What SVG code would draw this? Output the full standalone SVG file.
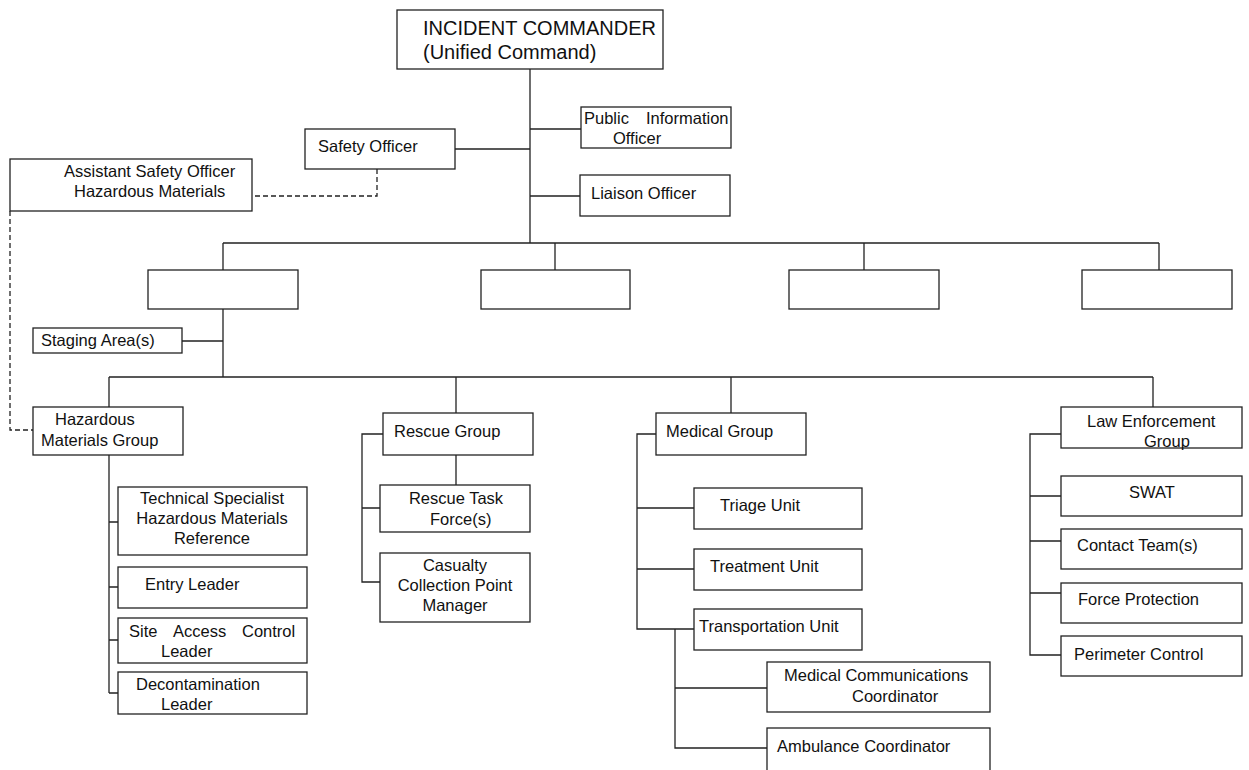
<svg xmlns="http://www.w3.org/2000/svg" width="1249" height="770" viewBox="0 0 1249 770">
<style>
.b{fill:#fff;stroke:#222;stroke-width:1.3}
.l{fill:none;stroke:#222;stroke-width:1.3}
.d{fill:none;stroke:#222;stroke-width:1.3;stroke-dasharray:5,3}
text{font-family:"Liberation Sans",Arial,sans-serif;font-size:16.5px;fill:#111}
.big{font-size:20px}
.m{text-anchor:middle}
</style>
<rect width="1249" height="770" fill="#fff"/>
<g id="connectors">
<path class="l" d="M530 69V243M530 129H581M455 149H530M530 196H580"/>
<path class="l" d="M223 243H1159M223 243V270M555 243V270M864 243V270M1159 243V270"/>
<path class="l" d="M223 309V377M182 341H223M109 377H1153M109 377V407M456 377V413M731 377V413M1153 377V407"/>
<path class="l" d="M109 455V693M109 522H118M109 587H118M109 640H118M109 693H118"/>
<path class="l" d="M456 455V485M383 434H362V582H380M362 508H380"/>
<path class="l" d="M656 434H637V629H694M637 508H694M637 569H694M675 629V748H767M675 688H767"/>
<path class="l" d="M1061 434H1030V655H1061M1030 496H1061M1030 541H1061M1030 593H1061"/>
<path class="d" d="M255 196H377V169"/>
<path class="d" d="M10 211V430H33"/>
</g>
<g id="ic"><rect class="b" x="397" y="10" width="266" height="59"/><text class="big" x="423" y="35">INCIDENT COMMANDER</text><text class="big" x="423" y="59">(Unified Command)</text></g>
<g id="pio"><rect class="b" x="581" y="107" width="150" height="41"/><text y="124"><tspan x="584">Public</tspan><tspan x="646">Information</tspan></text><text x="613" y="144">Officer</text></g>
<g id="safety"><rect class="b" x="305" y="129" width="150" height="40"/><text x="318" y="152">Safety Officer</text></g>
<g id="liaison"><rect class="b" x="580" y="175" width="150" height="41"/><text x="591" y="199">Liaison Officer</text></g>
<g id="aso"><rect class="b" x="10" y="159" width="242" height="52"/><text x="64" y="177">Assistant Safety Officer</text><text x="74" y="197">Hazardous Materials</text></g>
<g id="sec1"><rect class="b" x="148" y="270" width="150" height="39"/></g>
<g id="sec2"><rect class="b" x="481" y="270" width="149" height="39"/></g>
<g id="sec3"><rect class="b" x="789" y="270" width="150" height="39"/></g>
<g id="sec4"><rect class="b" x="1082" y="270" width="150" height="39"/></g>
<g id="staging"><rect class="b" x="33" y="328" width="149" height="25"/><text x="41" y="346">Staging Area(s)</text></g>
<g id="hazmat"><rect class="b" x="33" y="407" width="150" height="48"/><text x="55" y="425">Hazardous</text><text x="41" y="446">Materials Group</text></g>
<g id="techspec"><rect class="b" x="118" y="487" width="189" height="68"/><text class="m" x="212" y="504">Technical Specialist</text><text class="m" x="212" y="524">Hazardous Materials</text><text class="m" x="212" y="544">Reference</text></g>
<g id="entry"><rect class="b" x="118" y="567" width="189" height="41"/><text x="145" y="590">Entry Leader</text></g>
<g id="site"><rect class="b" x="118" y="618" width="189" height="45"/><text y="637"><tspan x="129">Site</tspan><tspan x="173">Access</tspan><tspan x="242">Control</tspan></text><text x="161" y="657">Leader</text></g>
<g id="decon"><rect class="b" x="118" y="672" width="189" height="42"/><text x="136" y="690">Decontamination</text><text x="161" y="710">Leader</text></g>
<g id="rescue"><rect class="b" x="383" y="413" width="150" height="42"/><text x="394" y="437">Rescue Group</text></g>
<g id="rtf"><rect class="b" x="380" y="485" width="150" height="47"/><text class="m" x="456" y="504">Rescue Task</text><text x="430" y="525">Force(s)</text></g>
<g id="casualty"><rect class="b" x="380" y="553" width="150" height="69"/><text class="m" x="455" y="571">Casualty</text><text class="m" x="455" y="591">Collection Point</text><text class="m" x="455" y="611">Manager</text></g>
<g id="medical"><rect class="b" x="656" y="413" width="150" height="42"/><text x="666" y="437">Medical Group</text></g>
<g id="triage"><rect class="b" x="694" y="488" width="168" height="41"/><text x="720" y="511">Triage Unit</text></g>
<g id="treatment"><rect class="b" x="694" y="549" width="168" height="41"/><text x="710" y="572">Treatment Unit</text></g>
<g id="transport"><rect class="b" x="694" y="609" width="168" height="41"/><text x="699" y="632">Transportation Unit</text></g>
<g id="medcomm"><rect class="b" x="767" y="662" width="223" height="50"/><text x="784" y="681">Medical Communications</text><text x="852" y="702">Coordinator</text></g>
<g id="ambulance"><rect class="b" x="767" y="728" width="223" height="50"/><text x="777" y="752">Ambulance Coordinator</text></g>
<g id="law"><rect class="b" x="1061" y="407" width="181" height="41"/><text x="1087" y="427">Law Enforcement</text><text x="1144" y="447">Group</text></g>
<g id="swat"><rect class="b" x="1061" y="476" width="181" height="40"/><text x="1129" y="498">SWAT</text></g>
<g id="contact"><rect class="b" x="1061" y="529" width="181" height="40"/><text x="1077" y="551">Contact Team(s)</text></g>
<g id="force"><rect class="b" x="1061" y="583" width="181" height="40"/><text x="1078" y="605">Force Protection</text></g>
<g id="perimeter"><rect class="b" x="1061" y="636" width="181" height="40"/><text x="1074" y="660">Perimeter Control</text></g>
</svg>
